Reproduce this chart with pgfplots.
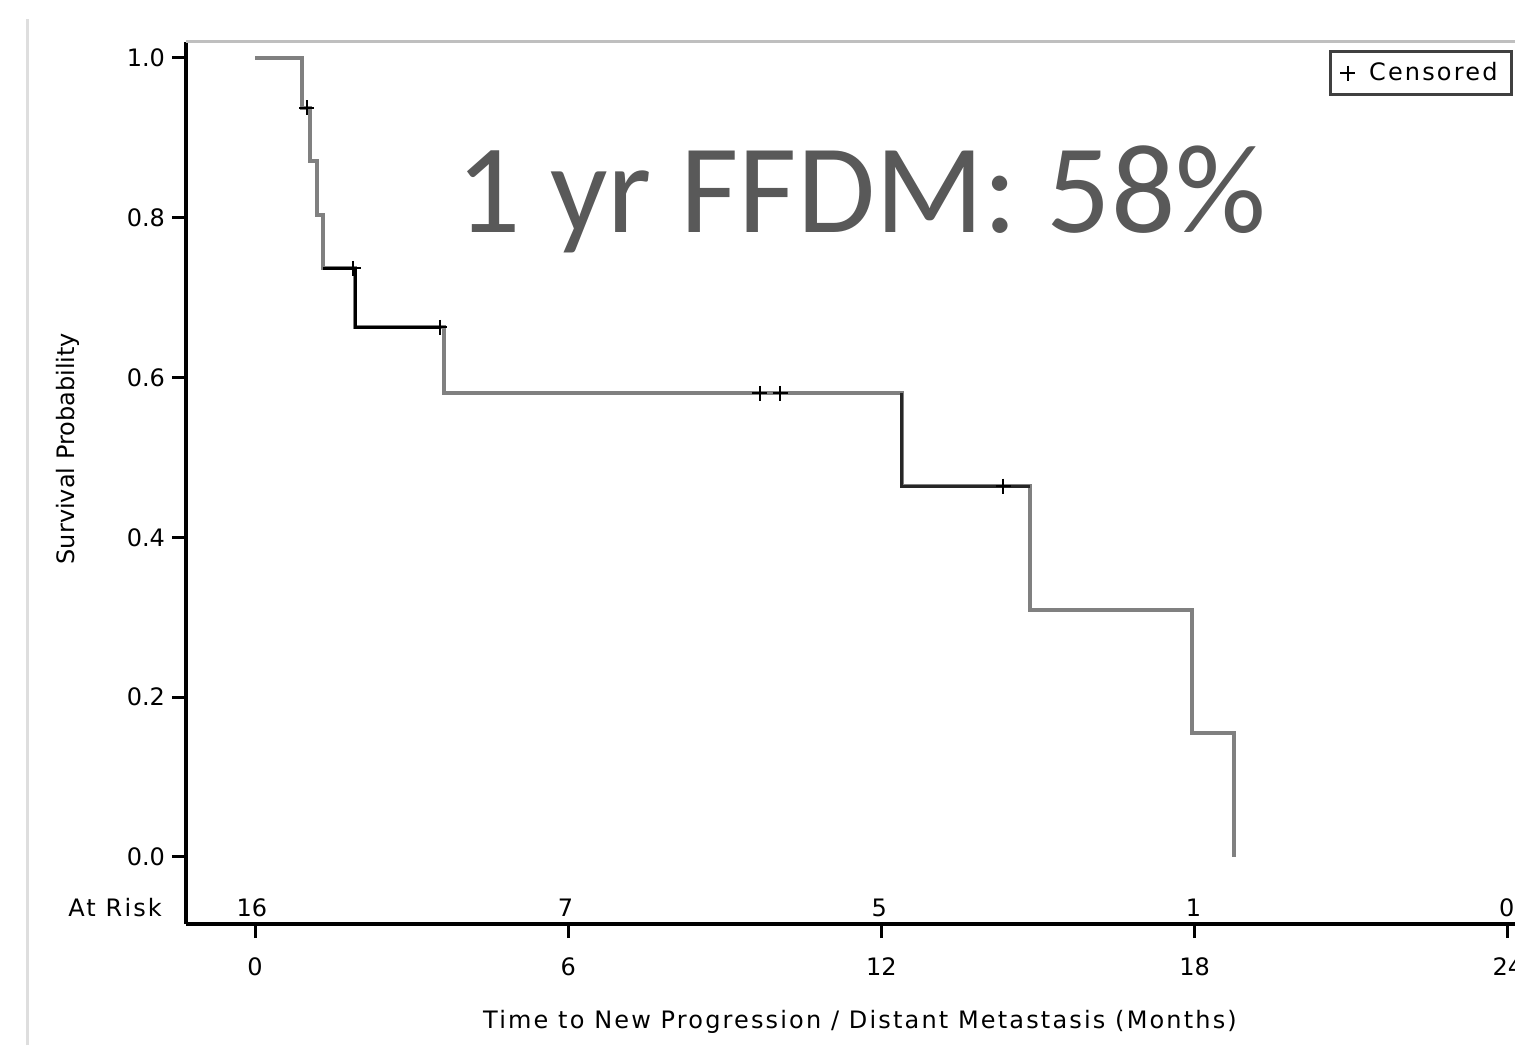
\documentclass[border=0pt]{standalone}
\usepackage{fontspec}
\setmainfont{DejaVu Sans}
\newfontfamily\calibri{Carlito}
\newfontfamily\spaced[LetterSpace=9]{DejaVu Sans}
\usepackage{pgfplots}
\pgfplotsset{compat=1.18}
\definecolor{curvegray}{HTML}{808080}
\definecolor{annot}{HTML}{595959}
\begin{document}
\begin{tikzpicture}
\useasboundingbox (0,0) rectangle (757.5pt,522.5pt);
\draw[black!13, line width=1.5pt] (13.5pt,0) -- (13.5pt,513pt);
\begin{axis}[
  at={(93pt,60.5pt)}, anchor=south west,
  scale only axis, width=664.5pt, height=441pt,
  xmin=-1.322, xmax=24.138, ymin=-0.0839, ymax=1.020,
  axis x line*=bottom, axis y line*=left,
  axis line style={-, black, line width=1.75pt},
  xtick={0,6,12,18,24}, ytick={0,0.2,0.4,0.6,0.8,1.0},
  yticklabels={0.0,0.2,0.4,0.6,0.8,1.0},
  tick align=outside, major tick length=7pt,
  tick style={black, line width=1.5pt},
  /pgf/number format/assume math mode=true,
  tick label style={font=\fontsize{12}{14}\selectfont},
  xticklabel style={yshift=-6.5pt},
  clip=false,
  legend style={at={(0.9985,0.9909)}, anchor=north east,
    draw=black!75, line width=1.5pt, font=\spaced\fontsize{12}{14}\selectfont,
    inner xsep=5pt, inner ysep=3.5pt},
  legend cell align=left,
]
\draw[black!25, line width=1.5pt] (rel axis cs:0,1) -- (rel axis cs:1,1);
\addplot[const plot, curvegray, line width=2pt, forget plot] coordinates {
  (0,1) (0.90,0.9375) (1.05,0.8705) (1.18,0.8036) (1.31,0.7366)
  (1.92,0.6629) (3.62,0.5801) (12.39,0.4641) (14.85,0.3094)
  (17.95,0.1547) (18.75,0)
};
\addplot[const plot, black, line width=1.5pt, forget plot] coordinates {
  (1.31,0.7366) (1.92,0.6629) (3.55,0.6629)
};
\addplot[const plot, black!85, line width=1.5pt, forget plot] coordinates {
  (12.39,0.5801) (12.39,0.4641) (14.85,0.4641)
};
\addplot[only marks, mark=+, mark size=3.75pt, black, line width=1pt] coordinates {
  (0.99,0.9375) (1.88,0.7366) (3.54,0.6629) (9.67,0.5801) (10.06,0.5801) (14.33,0.4641)
};
\addlegendentry{\hspace{5pt}Censored}
\node[font=\spaced\fontsize{12}{14}\selectfont] at (axis cs:-2.68,-0.0638) {At Risk};
\node[font=\fontsize{12}{14}\selectfont] at (axis cs:-0.06,-0.0638) {16};
\node[font=\fontsize{12}{14}\selectfont] at (axis cs:5.95,-0.0638) {7};
\node[font=\fontsize{12}{14}\selectfont] at (axis cs:11.96,-0.0638) {5};
\node[font=\fontsize{12}{14}\selectfont] at (axis cs:17.98,-0.0638) {1};
\node[font=\fontsize{12}{14}\selectfont] at (axis cs:23.98,-0.0638) {0};
\node[rotate=90, font=\fontsize{12}{14}\selectfont] at (axis cs:-3.58,0.511) {Survival Probability};
\node[font=\spaced\fontsize{12}{14}\selectfont] at (axis cs:11.59,-0.206) {Time to New Progression / Distant Metastasis (Months)};
\node[anchor=base, text=annot, font=\calibri\fontsize{63.5}{70}\selectfont, inner sep=0pt] at (axis cs:11.62,0.782) {1 yr FFDM: 58\%};
\end{axis}
\end{tikzpicture}
\end{document}
